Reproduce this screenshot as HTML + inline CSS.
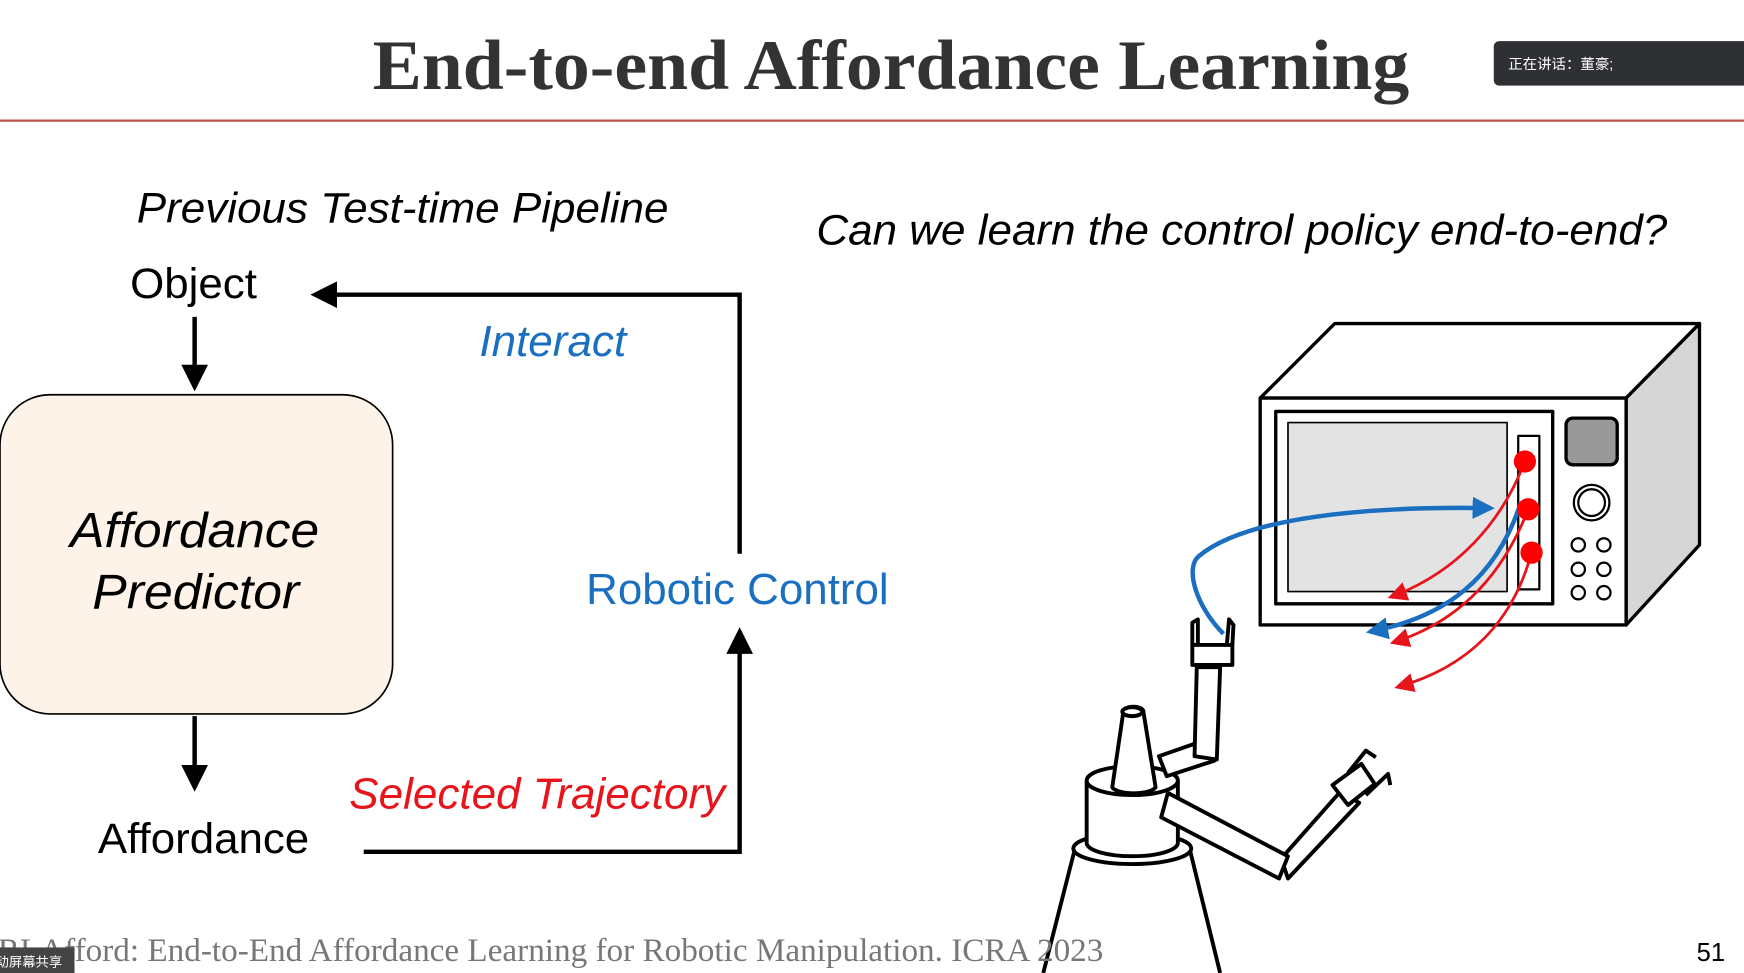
<!DOCTYPE html>
<html><head><meta charset="utf-8"><style>
html,body{margin:0;padding:0;background:#fff;overflow:hidden}
svg{display:block}
</style></head><body>
<svg width="1744" height="973" viewBox="0 0 1568 875" preserveAspectRatio="none" xmlns="http://www.w3.org/2000/svg">
<defs>
<marker id="ab" markerWidth="6" markerHeight="6" refX="5" refY="3" orient="auto" markerUnits="strokeWidth"><path d="M0,0 L6,3 L0,6 z" fill="#000"/></marker>
<marker id="ablue" markerWidth="5" markerHeight="5" refX="4" refY="2.5" orient="auto" markerUnits="strokeWidth"><path d="M0,0 L5,2.5 L0,5 z" fill="#1a6fc0"/></marker>
<marker id="ared" markerWidth="7" markerHeight="7" refX="6" refY="3.5" orient="auto" markerUnits="strokeWidth"><path d="M0,0 L7,3.5 L0,7 z" fill="#e8141c"/></marker>
</defs>
<rect width="1568" height="875" fill="#fff"/>
<text x="335" y="80" textLength="932" lengthAdjust="spacingAndGlyphs" font-family="Liberation Serif, serif" font-weight="bold" font-size="64" fill="#333">End-to-end Affordance Learning</text>
<line x1="0" y1="108.5" x2="1568" y2="108.5" stroke="#c0504d" stroke-width="2"/>
<g>
<rect x="1343" y="37" width="240" height="40" rx="5" fill="#2e3033"/>
<text x="1356" y="62" font-family="Liberation Sans, Noto Sans CJK SC, sans-serif" font-size="13" fill="#fff">正在讲话：董豪;</text>
</g>

<text x="123" y="200" textLength="478" lengthAdjust="spacingAndGlyphs" font-family="Liberation Sans, sans-serif" font-style="italic" font-size="38" fill="#000">Previous Test-time Pipeline</text>
<text x="734" y="220" textLength="765" lengthAdjust="spacingAndGlyphs" font-family="Liberation Sans, sans-serif" font-style="italic" font-size="38" fill="#000">Can we learn the control policy end-to-end?</text>

<text x="117" y="268" textLength="114" lengthAdjust="spacingAndGlyphs" font-family="Liberation Sans, sans-serif" font-size="38">Object</text>
<line x1="175" y1="285" x2="175" y2="348" stroke="#000" stroke-width="4" marker-end="url(#ab)"/>
<rect x="0" y="355" width="353" height="287" rx="45" fill="#fdf3e8" stroke="#000" stroke-width="1.5"/>
<text font-family="Liberation Sans, sans-serif" font-style="italic" font-size="44"><tspan x="63" y="492" textLength="224" lengthAdjust="spacingAndGlyphs">Affordance</tspan><tspan x="83" y="547" textLength="186" lengthAdjust="spacingAndGlyphs">Predictor</tspan></text>
<line x1="175" y1="644" x2="175" y2="708" stroke="#000" stroke-width="4" marker-end="url(#ab)"/>
<text x="88" y="767" textLength="190" lengthAdjust="spacingAndGlyphs" font-family="Liberation Sans, sans-serif" font-size="38">Affordance</text>
<text x="314" y="727" textLength="338" lengthAdjust="spacingAndGlyphs" font-family="Liberation Sans, sans-serif" font-style="italic" font-size="39" fill="#e8141c">Selected Trajectory</text>
<polyline points="327,766 665,766 665,568" fill="none" stroke="#000" stroke-width="4" marker-end="url(#ab)"/>
<text x="527" y="543" textLength="272" lengthAdjust="spacingAndGlyphs" font-family="Liberation Sans, sans-serif" font-size="39" fill="#1a6fc0">Robotic Control</text>
<polyline points="665,498 665,265 283,265" fill="none" stroke="#000" stroke-width="4" marker-end="url(#ab)"/>
<text x="431" y="320" textLength="132" lengthAdjust="spacingAndGlyphs" font-family="Liberation Sans, sans-serif" font-style="italic" font-size="39" fill="#1a6fc0">Interact</text>

<g stroke="#000" stroke-width="3" stroke-linejoin="round">
<polygon points="1133,358 1200,291 1528,291 1462,358" fill="#fff"/>
<polygon points="1462,358 1528,291 1528,490 1462,562" fill="#d6d6d6"/>
<rect x="1133" y="358" width="329" height="204" fill="#fff"/>
<rect x="1147" y="370" width="249" height="173" fill="#fff"/>
<rect x="1158" y="380" width="197" height="152" fill="#e3e3e3" stroke-width="1.5"/>
<rect x="1365" y="392" width="19" height="138" fill="#fff" stroke-width="2"/>
<rect x="1408" y="376" width="46" height="42" rx="6" fill="#999"/>
<circle cx="1431" cy="452" r="16" fill="#fff" stroke-width="2"/>
<circle cx="1431" cy="452" r="12" fill="#fff" stroke-width="2"/>
<g fill="#fff" stroke-width="2">
<circle cx="1419" cy="490" r="6"/><circle cx="1442" cy="490" r="6"/>
<circle cx="1419" cy="512" r="6"/><circle cx="1442" cy="512" r="6"/>
<circle cx="1419" cy="533" r="6"/><circle cx="1442" cy="533" r="6"/>
</g>
</g>

<g stroke="#000" stroke-width="3.5" fill="#fff" stroke-linejoin="round">
<path d="M966,765 L938,875 M1070,765 L1097,875" fill="none"/>
<ellipse cx="1018" cy="763" rx="53" ry="14"/>
<path d="M977,702 L977,758 A41,12 0 0 0 1059,758 L1059,702"/>
<ellipse cx="1018" cy="702" rx="41" ry="13"/>
<path d="M1042,680 L1085,665 L1092,684 L1049,698 z"/>
<path d="M1000,708 L1010,640 A8,4 0 0 1 1028,640 L1039,708 A20,7 0 0 1 1000,708 z"/>
<ellipse cx="1018" cy="640" rx="9" ry="4"/>
<path d="M1076,600 L1074,680 L1094,683 L1097,600 z"/>
<rect x="1072" y="580" width="36" height="18"/>
<path d="M1072,580 L1072,560 L1077,557 L1077,580 M1103,580 L1105,557 L1109,562 L1108,580" fill="none"/>
<path d="M1152,772 L1205,712 L1222,722 L1158,790 z"/>
<path d="M1050,713 L1158,770 L1150,790 L1044,735 z"/>
<path d="M1198,706 L1224,687 L1236,705 L1212,724 z"/>
<path d="M1212,695 L1228,675 L1237,681 M1228,715 L1248,696 L1250,706" fill="none"/>
</g>

<g fill="none">
<path d="M1371,415 C1350,470 1310,515 1250,537" stroke="#e8141c" stroke-width="2.5" marker-end="url(#ared)"/>
<path d="M1374,458 C1350,520 1310,560 1252,578" stroke="#e8141c" stroke-width="2.5" marker-end="url(#ared)"/>
<path d="M1377,497 C1360,560 1320,600 1256,618" stroke="#e8141c" stroke-width="2.5" marker-end="url(#ared)"/>
<path d="M1100,570 C1075,545 1065,510 1078,500 C1120,465 1230,455 1340,457" stroke="#1a6fc0" stroke-width="4" marker-end="url(#ablue)"/>
<path d="M1367,453 C1345,520 1300,555 1232,568" stroke="#1a6fc0" stroke-width="4" marker-end="url(#ablue)"/>
<circle cx="1371" cy="415" r="10" fill="#f00"/>
<circle cx="1374" cy="458" r="10" fill="#f00"/>
<circle cx="1377" cy="497" r="10" fill="#f00"/>
</g>

<text x="-2" y="864" textLength="994" lengthAdjust="spacingAndGlyphs" font-family="Liberation Serif, serif" font-size="29" fill="#777">RLAfford: End-to-End Affordance Learning for Robotic Manipulation. ICRA 2023</text>
<g>
<rect x="0" y="852" width="67" height="23" fill="#444"/>
<text x="-4" y="869" font-family="Liberation Sans, Noto Sans CJK SC, sans-serif" font-size="12" fill="#fff">动屏幕共享</text>
</g>
<text x="1551" y="864" text-anchor="end" font-family="Liberation Sans, sans-serif" font-size="23" fill="#000">51</text>
</svg>
</body></html>
